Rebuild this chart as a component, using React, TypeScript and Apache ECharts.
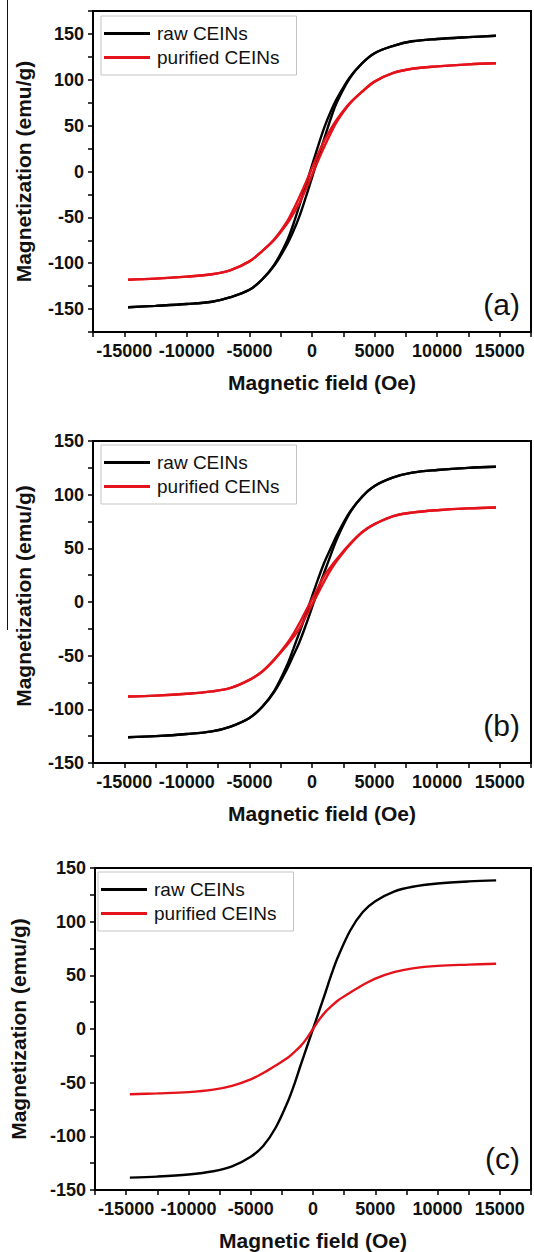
import React, { useEffect, useRef } from "react";
import * as echarts from "echarts";

// Field grid (Oe)
const H_UP = [-14700, -12500, -10000, -8000, -6500, -5000, -4000, -3000, -2000, -1500, -1000, -500, 0, 500, 1000, 1500, 2000, 3000, 4000, 5000, 6500, 8000, 10000, 12500, 14700];
const H_DOWN = [14700, 12500, 10000, 8000, 6500, 5000, 4000, 3000, 2000, 1500, 1000, 500, 0, -500, -1000, -1500, -2000, -3000, -4000, -5000, -6500, -8000, -10000, -12500, -14700];

// Panel (a)
const aRawUp = [-148, -146.5, -144.5, -142, -137, -129, -118, -102.4, -79.7, -65.5, -48.7, -28.3, -6.6, 15.4, 36.7, 57.8, 75.8, 101.4, 118, 129, 137, 142, 144.5, 146.5, 148];
const aRawDown = [148, 146.5, 144.5, 142, 137, 129, 118, 102.4, 79.7, 65.5, 48.7, 28.3, 6.6, -15.4, -36.7, -57.8, -75.8, -101.4, -118, -129, -137, -142, -144.5, -146.5, -148];
const aPurUp = [-118, -116.8, -114.6, -112, -107.5, -98, -87, -74.3, -57, -46.2, -34.1, -19.6, -3.8, 12.2, 27.4, 41.7, 54.7, 73.6, 87, 98, 107.5, 112, 114.6, 116.8, 118];
const aPurDown = [118, 116.8, 114.6, 112, 107.5, 98, 87, 74.3, 57, 46.2, 34.1, 19.6, 3.8, -12.2, -27.4, -41.7, -54.7, -73.6, -87, -98, -107.5, -112, -114.6, -116.8, -118];

// Panel (b)
const bRawUp = [-126, -125, -123, -120.5, -116, -108, -98, -83.4, -62.5, -50.1, -37.2, -21.8, -5.1, 11.9, 28.2, 43.9, 59, 82.5, 98, 108, 116, 120.5, 123, 125, 126];
const bRawDown = [126, 125, 123, 120.5, 116, 108, 98, 83.4, 62.5, 50.1, 37.2, 21.8, 5.1, -11.9, -28.2, -43.9, -59, -82.5, -98, -108, -116, -120.5, -123, -125, -126];
const bPurUp = [-88, -87.2, -85.5, -83.3, -80, -72.5, -65, -53.7, -40.3, -32.9, -24.7, -13.8, -2.6, 8.4, 19.7, 29.9, 38.6, 53.2, 65, 72.5, 80, 83.3, 85.5, 87.2, 88];
const bPurDown = [88, 87.2, 85.5, 83.3, 80, 72.5, 65, 53.7, 40.3, 32.9, 24.7, 13.8, 2.6, -8.4, -19.7, -29.9, -38.6, -53.2, -65, -72.5, -80, -83.3, -85.5, -87.2, -88];

// Panel (c)
const cRaw = [-138.5, -137.5, -135.5, -132.5, -128, -119, -109, -92, -67, -51.5, -34, -17, 0, 17, 34, 51.5, 67, 92, 109, 119, 128, 132.5, 135.5, 137.5, 138.5];
const cPur = [-60.8, -60, -58.8, -56.5, -53, -47, -41, -34, -26.5, -21.5, -16, -8.7, 0, 8.7, 16, 21.5, 26.5, 34, 41, 47, 53, 56.5, 58.8, 60, 60.8];

const SERIES_NAMES = ["raw CEINs", "purified CEINs"];
const PANEL_LABELS = ["(a)", "(b)", "(c)"];
const X_TITLE = "Magnetic field (Oe)";
const Y_TITLE = "Magnetization (emu/g)";

const FONT = "'Liberation Sans', Arial, Helvetica, sans-serif";
const BLACK = "#000000";
const RED = "#e3121b";

function pairs(xs: number[], ys: number[]) {
  return xs.map((x, i) => [x, ys[i]]);
}

export default function App() {
  const ref = useRef<HTMLDivElement>(null);

  useEffect(() => {
    if (!ref.current) return;
    const chart = echarts.init(ref.current, null, { renderer: "svg" });

    const grids = [
      { left: 93, top: 11, width: 440, height: 321 },
      { left: 93, top: 441, width: 440, height: 322 },
      { left: 92, top: 868, width: 441, height: 322 },
    ];
    const yRanges = [
      [-175, 175],
      [-150, 150],
      [-150, 150],
    ];
    const yNameGaps = [59, 59, 66];
    const yNamePad = [
      [0, 0, 0, 0],
      [0, 0, 0, 12],
      [0, 0, 0, 0],
    ];
    const xNamePad = [
      [0, 0, 0, 20],
      [0, 0, 0, 20],
      [0, 0, 0, 0],
    ];
    const legendPos = [
      { left: 101, top: 16 },
      { left: 101, top: 445 },
      { left: 98, top: 872 },
    ];
    const labelY = [307, 728, 1161];

    const xAxes = grids.map((_, i) => ({
      type: "value",
      gridIndex: i,
      min: -17500,
      max: 17500,
      interval: 2500,
      name: X_TITLE,
      nameLocation: "middle",
      nameGap: 40,
      nameTextStyle: { fontFamily: FONT, fontWeight: "bold", fontSize: 21, color: "#111", padding: xNamePad[i] },
      axisLine: { show: true, onZero: false, lineStyle: { color: BLACK, width: 2 } },
      axisTick: { show: true, inside: false, length: 5, lineStyle: { color: BLACK, width: 1.5 } },
      splitLine: { show: false },
      axisLabel: {
        margin: 10,
        fontFamily: FONT,
        fontWeight: "bold",
        fontSize: 18,
        color: "#111",
        formatter: (v: number) => (Math.abs(v) <= 15000 && v % 5000 === 0 ? String(v) : ""),
      },
    }));

    const yAxes = grids.map((_, i) => ({
      type: "value",
      gridIndex: i,
      min: yRanges[i][0],
      max: yRanges[i][1],
      interval: 25,
      name: Y_TITLE,
      nameLocation: "middle",
      nameGap: yNameGaps[i],
      nameRotate: 90,
      nameTextStyle: { fontFamily: FONT, fontWeight: "bold", fontSize: 21, color: "#111", padding: yNamePad[i] },
      axisLine: { show: true, onZero: false, lineStyle: { color: BLACK, width: 2 } },
      axisTick: { show: true, inside: false, length: 5, lineStyle: { color: BLACK, width: 1.5 } },
      splitLine: { show: false },
      axisLabel: {
        margin: 9,
        fontFamily: FONT,
        fontWeight: "bold",
        fontSize: 18,
        color: "#111",
        formatter: (v: number) => (Math.abs(v) <= 150 && v % 50 === 0 ? String(v) : ""),
      },
    }));

    const mk = (name: string, color: string, idx: number, data: number[][]) => ({
      type: "line",
      name,
      xAxisIndex: idx,
      yAxisIndex: idx,
      data,
      smooth: 0.35,
      symbol: "none",
      lineStyle: { color, width: 2.4 },
      itemStyle: { color },
      silent: true,
    });

    const series = [
      mk(SERIES_NAMES[0], BLACK, 0, pairs(H_UP, aRawUp)),
      mk(SERIES_NAMES[0], BLACK, 0, pairs(H_DOWN, aRawDown)),
      mk(SERIES_NAMES[1], RED, 0, pairs(H_UP, aPurUp)),
      mk(SERIES_NAMES[1], RED, 0, pairs(H_DOWN, aPurDown)),
      mk(SERIES_NAMES[0], BLACK, 1, pairs(H_UP, bRawUp)),
      mk(SERIES_NAMES[0], BLACK, 1, pairs(H_DOWN, bRawDown)),
      mk(SERIES_NAMES[1], RED, 1, pairs(H_UP, bPurUp)),
      mk(SERIES_NAMES[1], RED, 1, pairs(H_DOWN, bPurDown)),
      mk(SERIES_NAMES[0], BLACK, 2, pairs(H_UP, cRaw)),
      mk(SERIES_NAMES[1], RED, 2, pairs(H_UP, cPur)),
    ];

    const legends = legendPos.map((p) => ({
      show: true,
      orient: "vertical",
      left: p.left,
      top: p.top,
      data: SERIES_NAMES,
      icon: "rect",
      itemWidth: 46,
      itemHeight: 3,
      itemGap: 5,
      padding: [8, 17, 8, 3],
      borderColor: "#c4c4c4",
      borderWidth: 1,
      backgroundColor: "#ffffff",
      selectedMode: false,
      textStyle: {
        fontFamily: FONT,
        fontSize: 19,
        lineHeight: 18,
        color: "#111",
        padding: [0, 0, 0, 2],
      },
    }));

    const graphics: any[] = PANEL_LABELS.map((t, i) => ({
      type: "text",
      right: 534 - 520,
      top: labelY[i] - 18,
      style: { text: t, font: `30px ${FONT}`, fill: "#111" },
    }));
    graphics.push({
      type: "line",
      shape: { x1: 7.5, y1: 0, x2: 7.5, y2: 630 },
      style: { stroke: "#111", lineWidth: 1 },
    });

    chart.setOption({
      animation: false,
      backgroundColor: "#ffffff",
      grid: grids.map((g) => ({ ...g, show: true, borderColor: BLACK, borderWidth: 2, backgroundColor: "transparent" })),
      xAxis: xAxes,
      yAxis: yAxes,
      legend: legends,
      series,
      graphic: graphics,
    } as any);

    return () => chart.dispose();
  }, []);

  return (
    <div
      ref={ref}
      style={{ position: "absolute", left: 0, top: 0, width: 534, height: 1252, background: "#fff" }}
    />
  );
}
